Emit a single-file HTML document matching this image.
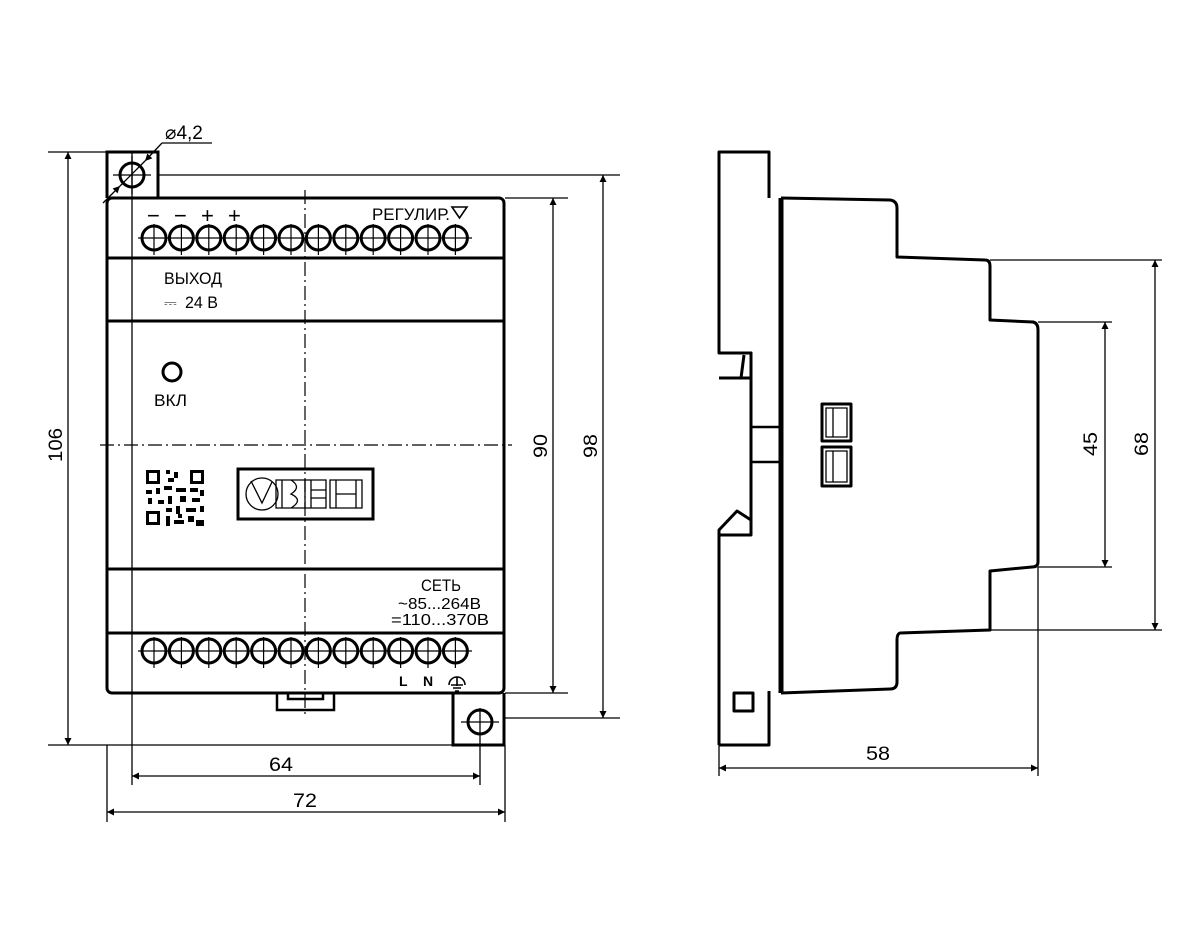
<!DOCTYPE html>
<html><head><meta charset="utf-8"><style>
html,body{margin:0;padding:0;background:#fff;}
svg{display:block;}
text{font-family:"Liberation Sans",sans-serif;fill:#000;}
</style></head><body>
<svg width="1200" height="948" viewBox="0 0 1200 948" xmlns="http://www.w3.org/2000/svg">
<defs>
<marker id="a" viewBox="0 0 10 10" refX="10" refY="5" markerWidth="14" markerHeight="7" markerUnits="userSpaceOnUse" orient="auto-start-reverse"><path d="M0,0 L10,5 L0,10 z" fill="#000"/></marker>
</defs>
<g fill="none" stroke="#000">
<!-- center lines -->
<line x1="305" y1="190" x2="305" y2="715" stroke-width="1.2" stroke-dasharray="14,4,2,4"/>
<line x1="100" y1="445" x2="512" y2="445" stroke-width="1.2" stroke-dasharray="14,4,2,4"/>
<!-- extension lines -->
<g stroke-width="1.3">
<line x1="48" y1="152" x2="107" y2="152"/>
<line x1="48" y1="745" x2="505" y2="745"/>
<line x1="158" y1="175" x2="620" y2="175"/>
<line x1="505" y1="198" x2="568" y2="198"/>
<line x1="505" y1="693" x2="568" y2="693"/>
<line x1="505" y1="718" x2="620" y2="718"/>
<line x1="132" y1="152" x2="132" y2="785"/>
<line x1="480" y1="708" x2="480" y2="785"/>
<line x1="107" y1="745" x2="107" y2="822"/>
<line x1="505" y1="745" x2="505" y2="822"/>
<!-- dims -->
<line x1="68" y1="152" x2="68" y2="745" marker-start="url(#a)" marker-end="url(#a)"/>
<line x1="553" y1="198" x2="553" y2="693" marker-start="url(#a)" marker-end="url(#a)"/>
<line x1="603" y1="175" x2="603" y2="718" marker-start="url(#a)" marker-end="url(#a)"/>
<line x1="132" y1="776" x2="480" y2="776" marker-start="url(#a)" marker-end="url(#a)"/>
<line x1="107" y1="812" x2="505" y2="812" marker-start="url(#a)" marker-end="url(#a)"/>
<!-- diameter leader -->
<line x1="103" y1="203" x2="120" y2="186" marker-end="url(#a)"/>
<line x1="162" y1="143" x2="145" y2="161" marker-end="url(#a)"/>
<line x1="120" y1="186" x2="145" y2="161"/>
<line x1="162" y1="143" x2="212" y2="143"/>
</g>
<!-- front body -->
<g stroke-width="3">
<path d="M107,198 V152 H158 V198"/>
<circle cx="132" cy="175" r="12"/>
<rect x="107" y="198" width="397" height="495" rx="5"/>
<path d="M107,258 H504 M107,321 H504 M107,569 H504 M107,633 H504"/>
<path d="M277,693 V710 H334 V693 M288,693 V699 H323 V693" stroke-width="2.5"/>
<path d="M453,693 V745 H504 V693"/>
<circle cx="480" cy="722" r="12"/>
<circle cx="172" cy="372" r="9"/>
<rect x="238" y="469" width="135" height="50" stroke-width="3"/>
</g>
<line x1="113" y1="175" x2="151" y2="175" stroke-width="1.3"/>
<line x1="132" y1="156" x2="132" y2="194" stroke-width="1.3"/>
<line x1="461" y1="722" x2="499" y2="722" stroke-width="1.3"/>
<!-- logo -->
<g stroke-width="1.3">
<circle cx="262" cy="494" r="16"/>
<path d="M251,481 L262,503 L272,482"/>
<path d="M276,480 H305 V508 H276 Z M282,480 V508 M291,480 Q302,487 291,494 Q304,500 291,508"/>
<path d="M305,480 H326 V508 H305 M311,480 V508 M311,490 H326 M311,498 H326"/>
<path d="M330,480 H362 V508 H330 Z M336,480 V508 M356,480 V508 M336,494 H356"/>
</g>
</g>
<!-- terminals -->
<g id="t" fill="none" stroke="#000">
<g stroke-width="3">
<circle cx="154" cy="238" r="12"/><circle cx="181.4" cy="238" r="12"/><circle cx="208.8" cy="238" r="12"/><circle cx="236.2" cy="238" r="12"/><circle cx="263.6" cy="238" r="12"/><circle cx="291" cy="238" r="12"/><circle cx="318.4" cy="238" r="12"/><circle cx="345.8" cy="238" r="12"/><circle cx="373.2" cy="238" r="12"/><circle cx="400.6" cy="238" r="12"/><circle cx="428" cy="238" r="12"/><circle cx="455.4" cy="238" r="12"/>
<circle cx="154" cy="651" r="12"/><circle cx="181.4" cy="651" r="12"/><circle cx="208.8" cy="651" r="12"/><circle cx="236.2" cy="651" r="12"/><circle cx="263.6" cy="651" r="12"/><circle cx="291" cy="651" r="12"/><circle cx="318.4" cy="651" r="12"/><circle cx="345.8" cy="651" r="12"/><circle cx="373.2" cy="651" r="12"/><circle cx="400.6" cy="651" r="12"/><circle cx="428" cy="651" r="12"/><circle cx="455.4" cy="651" r="12"/>
</g>
<g stroke-width="1.2">
<line x1="138" y1="238" x2="472" y2="238"/><line x1="138" y1="651" x2="472" y2="651"/>
<path d="M154,224V255M181.4,224V255M208.8,224V255M236.2,224V255M263.6,224V255M291,224V255M318.4,224V255M345.8,224V255M373.2,224V255M400.6,224V255M428,224V255M455.4,224V255"/>
<path d="M154,637V668M181.4,637V668M208.8,637V668M236.2,637V668M263.6,637V668M291,637V668M318.4,637V668M345.8,637V668M373.2,637V668M400.6,637V668M428,637V668M455.4,637V668"/>
</g>
</g>
<!-- QR -->
<g fill="#000">
<rect x="146" y="470" width="14" height="14"/><rect x="149" y="473" width="8" height="8" fill="#fff"/>
<rect x="190" y="470" width="14" height="14"/><rect x="193" y="473" width="8" height="8" fill="#fff"/>
<rect x="146" y="511" width="14" height="14"/><rect x="149" y="514" width="8" height="8" fill="#fff"/>
<rect x="166" y="470" width="4" height="4"/><rect x="174" y="472" width="4" height="6"/><rect x="168" y="478" width="6" height="4"/>
<rect x="146" y="490" width="6" height="4"/><rect x="156" y="488" width="4" height="6"/><rect x="164" y="486" width="8" height="4"/><rect x="176" y="488" width="10" height="4"/><rect x="190" y="488" width="8" height="4"/><rect x="200" y="490" width="4" height="6"/>
<rect x="148" y="498" width="4" height="6"/><rect x="158" y="500" width="6" height="4"/><rect x="168" y="496" width="4" height="8"/><rect x="180" y="496" width="6" height="6"/><rect x="192" y="498" width="8" height="4"/>
<rect x="166" y="508" width="6" height="4"/><rect x="176" y="506" width="4" height="8"/><rect x="186" y="508" width="10" height="4"/><rect x="200" y="506" width="4" height="6"/>
<rect x="166" y="516" width="4" height="10"/><rect x="174" y="520" width="10" height="4"/><rect x="188" y="516" width="6" height="6"/><rect x="196" y="520" width="8" height="6"/><rect x="178" y="514" width="4" height="4"/>
</g>
<!-- front text -->
<g font-size="18">
<text x="147" y="223" font-size="22">−</text><text x="174" y="223" font-size="22">−</text><text x="201" y="223" font-size="22">+</text><text x="228" y="223" font-size="22">+</text>
<text x="372" y="220" font-size="17" textLength="78" lengthAdjust="spacingAndGlyphs">РЕГУЛИР.</text>
<text x="164" y="284" font-size="17" textLength="58" lengthAdjust="spacingAndGlyphs">ВЫХОД</text>
<text x="164" y="308" font-size="16">⎓</text><text x="185" y="308" font-size="17" textLength="33" lengthAdjust="spacingAndGlyphs">24 В</text>
<text x="154" y="406" font-size="17" textLength="33" lengthAdjust="spacingAndGlyphs">ВКЛ</text>
<text x="421" y="591" font-size="17" textLength="40" lengthAdjust="spacingAndGlyphs">СЕТЬ</text>
<text x="398" y="609" font-size="16" textLength="83" lengthAdjust="spacingAndGlyphs">~85...264В</text>
<text x="391" y="625" font-size="16" textLength="98" lengthAdjust="spacingAndGlyphs">=110...370В</text>
<text x="399" y="686" font-size="14" font-weight="bold">L</text><text x="423" y="686" font-size="14" font-weight="bold">N</text>
<text x="165" y="139" font-size="19">⌀4,2</text>
<text x="269" y="771" font-size="19" textLength="24" lengthAdjust="spacingAndGlyphs">64</text>
<text x="293" y="807" font-size="19" textLength="24" lengthAdjust="spacingAndGlyphs">72</text>
<text x="866" y="760" font-size="19" textLength="24" lengthAdjust="spacingAndGlyphs">58</text>
<text transform="translate(62,462) rotate(-90)" font-size="19" textLength="34" lengthAdjust="spacingAndGlyphs">106</text>
<text transform="translate(547,458) rotate(-90)" font-size="19" textLength="24" lengthAdjust="spacingAndGlyphs">90</text>
<text transform="translate(597,458) rotate(-90)" font-size="19" textLength="24" lengthAdjust="spacingAndGlyphs">98</text>
<text transform="translate(1097,456) rotate(-90)" font-size="19" textLength="24" lengthAdjust="spacingAndGlyphs">45</text>
<text transform="translate(1148,456) rotate(-90)" font-size="19" textLength="24" lengthAdjust="spacingAndGlyphs">68</text>
</g>
<g fill="none" stroke="#000" stroke-width="1.6">
<path d="M452,207 H467 L459.5,218 Z"/>
<path d="M449,685 A8,8 0 0 1 465,685 M457,677 V686 M451,685 H463 M453,688 H461 M455,691 H459"/>
</g>
<!-- side view -->
<g fill="none" stroke="#000" stroke-width="3" stroke-linejoin="round">
<path d="M769,198 V152 H719 V353 H751 V378 H719"/>
<path d="M719,353 H751 V535"/>
<path d="M722,378 H741 L744,355"/>
<path d="M751,427 H781 M751,462 H781 M781,427 V462 M751,427 V462" stroke-width="2.5"/>
<path d="M719,745 V530 L737,511 L751,520 V535 H719"/>
<path d="M769,691 V745 H719"/>
<rect x="734" y="693" width="19" height="18"/>
<path d="M781,198 L890,200 Q897,201 897,208 V257 L985,260 Q990,260 990,266 V320 L1033,322 Q1038,323 1038,330 V562 Q1038,567 1032,567 L990,571 V630 L900,633 Q897,634 897,640 V682 Q897,689 890,689 L781,693"/>
<line x1="781" y1="198" x2="781" y2="693" stroke-width="5"/>
<rect x="822" y="404" width="29" height="37"/><rect x="822" y="447" width="29" height="39"/>
</g>
<g fill="none" stroke="#000" stroke-width="1.3">
<path d="M826,408 H847 V437 H826 Z M833,408 V437 M826,451 H847 V482 H826 Z M833,451 V482"/>
<line x1="990" y1="260" x2="1162" y2="260"/>
<line x1="1038" y1="322" x2="1112" y2="322"/>
<line x1="1038" y1="567" x2="1112" y2="567"/>
<line x1="990" y1="630" x2="1162" y2="630"/>
<line x1="1105" y1="322" x2="1105" y2="567" marker-start="url(#a)" marker-end="url(#a)"/>
<line x1="1155" y1="260" x2="1155" y2="630" marker-start="url(#a)" marker-end="url(#a)"/>
<line x1="1038" y1="567" x2="1038" y2="776"/>
<line x1="719" y1="745" x2="719" y2="776"/>
<line x1="719" y1="768" x2="1038" y2="768" marker-start="url(#a)" marker-end="url(#a)"/>
</g>
</svg>
</body></html>
